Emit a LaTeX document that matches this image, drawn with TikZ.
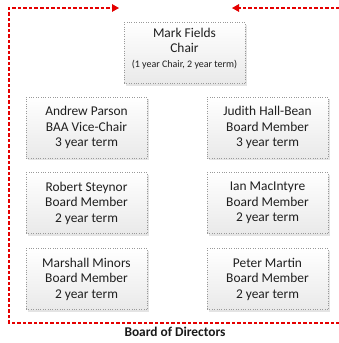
\documentclass[tikz,border=0pt]{standalone}
\usepackage{fontspec}
\setmainfont{Carlito}
\usetikzlibrary{shadows,arrows.meta}

\tikzset{
  member/.style={draw=gray!80, dotted, top color=white, bottom color=gray!17,
    minimum width=121pt, minimum height=61pt, inner sep=0pt, align=center,
    text=black!88, font=\fontsize{13.4}{15.5}\selectfont,
    drop shadow={shadow xshift=2.2pt, shadow yshift=-2.2pt, opacity=0.3, fill=gray!70}},
  frameline/.style={red!90!black, dash pattern=on 3.5pt off 2pt, line width=1.3pt},
  frameshadow/.style={gray!15, dash pattern=on 3.5pt off 2pt, line width=1.2pt, shift={(1.5,1.5)}},
  tip/.style={-{Triangle[length=7pt,width=7.5pt]}}
}

\begin{document}
\begin{tikzpicture}[x=1pt,y=-1pt]
  \useasboundingbox (0,0) rectangle (339,343);
  % frame round the board
  \coordinate (tl) at (9,8);
  \coordinate (bl) at (9,323);
  \coordinate (tr) at (345,8);
  \coordinate (br) at (345,323);
  \coordinate (la) at (119,8);
  \coordinate (ra) at (232,8);
  \draw[frameshadow,tip] (br) -- (bl) -- (tl) -- (la);
  \draw[frameshadow,tip] (tr) -- (ra);
  \draw[frameline,tip] (br) -- (bl) -- (tl) -- (la);
  \draw[frameline,tip] (tr) -- (ra);
  % members
  \node[member](chair)at(184.5,53){Mark Fields\\Chair\\[-1pt]{\fontsize{10}{12}\selectfont (1 year Chair, 2 year term)}\\[-5pt]\mbox{}};
  \node[member](parson)at(86.5,127.5){Andrew Parson\\BAA Vice-Chair\\3 year term};
  \node[member](hallbean)at(267.5,127.5){Judith Hall-Bean\\Board Member\\3 year term};
  \node[member](steynor)at(86.5,203){Robert Steynor\\Board Member\\2 year term};
  \node[member](macintyre)at(267.5,203){Ian MacIntyre\\Board Member\\2 year term};
  \node[member](minors)at(86.5,279){Marshall Minors\\Board Member\\2 year term};
  \node[member](martin)at(267.5,279){Peter Martin\\Board Member\\2 year term};
  \node[font=\bfseries\fontsize{13.4}{15.5}\selectfont,text=black!90](board)at(175,331.5){Board of Directors};
\end{tikzpicture}
\end{document}
